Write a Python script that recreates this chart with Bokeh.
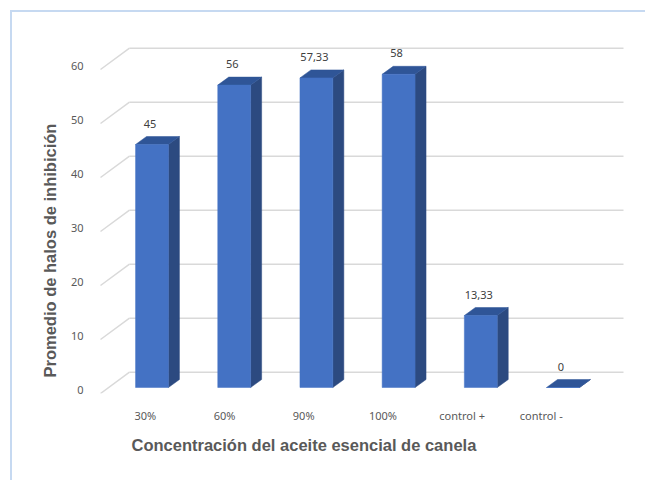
from bokeh.plotting import figure
from bokeh.models import Range1d, LinearAxis, FixedTicker, Title
from bokeh.embed import file_html
from bokeh.resources import INLINE
from bokeh.core.properties import value

# ---- data ----
categories = ["30%", "60%", "90%", "100%", "control +", "control -"]
values = [45, 56, 57.33, 58, 13.33, 0]
y_ticks = [0, 10, 20, 30, 40, 50, 60]
x_title = "Concentración del aceite esencial de canela"
y_title = "Promedio de halos de inhibición"

def fmt(v):
    return str(int(v)) if float(v).is_integer() else ("%.2f" % v).replace(".", ",")

value_labels = [fmt(v) for v in values]
idx = list(range(len(categories)))

# ---- geometry (pixel scale of the data axes) ----
PX_X = 82.2   # px per category
PX_Y = 5.4    # px per value unit
HALF_W = 0.2  # half bar width in category units
SIDE_DX = 11 / PX_X
SIDE_DY = 8 / PX_Y
BACK_SHIFT_Y = 15.3 / PX_Y   # back wall relative to bar front
FRONT_SHIFT_Y = -6 / PX_Y    # front edge relative to bar front
FRONT_X = -0.6265
BACK_X0 = -0.2737
BACK_X1 = 5.736

GRID = "#d9d9d9"
FRONT = "#4472c4"
SIDE = "#2c4a80"
TOP = "#2f5597"
TICK = "#595959"

p = figure(width=645, height=480, output_backend="svg", toolbar_location=None,
           x_range=Range1d(-0.7238, 5.8455), y_range=Range1d(-1.111, 67.963),
           x_axis_type=None, y_axis_type=None,
           min_border_left=92, min_border_right=13, min_border_top=20, min_border_bottom=87,
           border_fill_color=None, background_fill_color=None, outline_line_color=None)
p.styles = {"box-shadow": "inset 10px 10px 0 0 #ffffff, inset 12px 12px 0 0 #c6d9f1"}

p.extra_y_ranges = {"ax": Range1d(-0.630, 68.444)}
p.extra_x_ranges = {"lab": Range1d(-0.6667, 6.1515)}

# gridlines: back wall + diagonal side lines
p.segment(x0=[BACK_X0] * len(y_ticks), x1=[BACK_X1] * len(y_ticks),
          y0=[t + BACK_SHIFT_Y for t in y_ticks], y1=[t + BACK_SHIFT_Y for t in y_ticks],
          line_color=GRID, line_width=1.5)
p.segment(x0=[FRONT_X] * len(y_ticks), x1=[BACK_X0] * len(y_ticks),
          y0=[t + FRONT_SHIFT_Y for t in y_ticks], y1=[t + BACK_SHIFT_Y for t in y_ticks],
          line_color=GRID, line_width=1.5)

# bars: side faces, top faces, front faces
side_xs, side_ys, top_xs, top_ys = [], [], [], []
for i, v in zip(idx, values):
    r = i + HALF_W
    l = i - HALF_W
    side_xs.append([r, r + SIDE_DX, r + SIDE_DX, r])
    side_ys.append([0, SIDE_DY, v + SIDE_DY, v])
    top_xs.append([l, r, r + SIDE_DX, l + SIDE_DX])
    top_ys.append([v, v, v + SIDE_DY, v + SIDE_DY])
p.patches(side_xs, side_ys, fill_color=SIDE, line_color=SIDE, line_width=0.5)
p.patches(top_xs, top_ys, fill_color=TOP, line_color=TOP, line_width=0.5)
p.quad(left=[i - HALF_W for i in idx], right=[i + HALF_W for i in idx],
       bottom=[0] * len(values), top=values, fill_color=FRONT, line_color=FRONT, line_width=0.5)

# value labels
p.text(x=idx, y=values, text=value_labels, x_offset=-2, y_offset=-21,
       text_align="center", text_baseline="middle",
       text_font=value("Noto Sans"), text_font_size="11px", text_color="#404040")

# axes
yax = LinearAxis(y_range_name="ax", ticker=FixedTicker(ticks=y_ticks))
yax.axis_line_color = None
yax.major_tick_line_color = None
yax.minor_tick_line_color = None
yax.major_tick_out = 0
yax.major_tick_in = 0
yax.major_label_standoff = 9
yax.major_label_text_font = "Noto Sans"
yax.major_label_text_font_size = "11px"
yax.major_label_text_color = TICK
p.add_layout(yax, "left")

xax = LinearAxis(x_range_name="lab", ticker=FixedTicker(ticks=idx))
xax.major_label_overrides = {i: c for i, c in zip(idx, categories)}
xax.axis_line_color = None
xax.major_tick_line_color = None
xax.minor_tick_line_color = None
xax.major_tick_out = 0
xax.major_tick_in = 0
xax.major_label_standoff = 14
xax.major_label_text_font = "Noto Sans"
xax.major_label_text_font_size = "11px"
xax.major_label_text_color = TICK
p.add_layout(xax, "below")

# axis titles
p.add_layout(Title(text=x_title, align="left", offset=39, standoff=16,
                   text_font="Liberation Sans", text_font_style="bold", text_font_size="16.5px",
                   text_color=TICK), "below")
p.add_layout(Title(text=y_title, align="left", offset=16, standoff=17,
                   text_font="Liberation Sans", text_font_style="bold", text_font_size="16.5px",
                   text_color=TICK), "left")

open("out.html", "w").write(file_html(p, INLINE))
